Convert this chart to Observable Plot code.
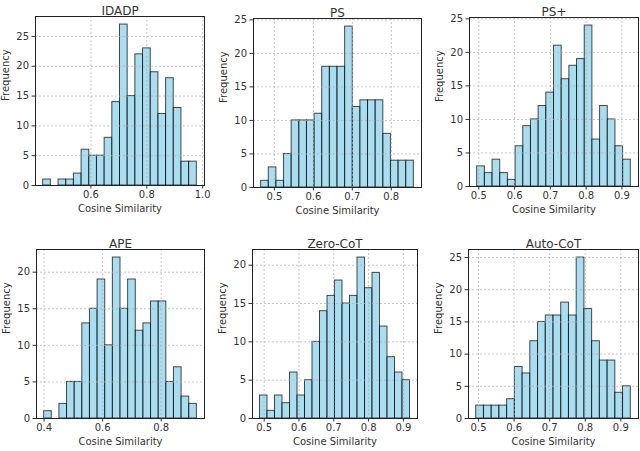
<!DOCTYPE html>
<html>
<head>
<meta charset="utf-8">
<script src="https://cdn.jsdelivr.net/npm/d3@7"></script>
<script src="https://cdn.jsdelivr.net/npm/@observablehq/plot@0.6"></script>
<style>
  html, body { margin: 0; padding: 0; background: #fff; }
  #chart { position: relative; width: 640px; height: 451px; overflow: hidden; font-family: "DejaVu Sans", sans-serif; }
  #chart svg { position: absolute; }
</style>
</head>
<body>
<div id="chart"></div>
<script>
// ---- data ----
const titles = ["IDADP", "PS", "PS+", "APE", "Zero-CoT", "Auto-CoT"];
// histogram range (first bin left edge, last bin right edge), 20 equal bins each
const binLo = [0.429, 0.466, 0.4954, 0.400, 0.488, 0.4935];
const binHi = [0.979, 0.858, 0.925, 0.922, 0.919, 0.928];
const countsIDADP   = [1, 0, 1, 1, 2, 6, 5, 5, 8, 14, 27, 15, 22, 23, 19, 12, 18, 13, 4, 4];
const countsPS      = [1, 3, 1, 5, 10, 10, 10, 11, 18, 18, 18, 24, 12, 13, 13, 13, 8, 4, 4, 4];
const countsPSPlus  = [3, 2, 4, 2, 1, 6, 9, 10, 12, 14, 21, 16, 18, 19, 24, 7, 12, 10, 6, 4];
const countsAPE     = [1, 0, 2, 5, 5, 13, 15, 19, 10, 22, 15, 19, 12, 13, 16, 16, 5, 7, 3, 2];
const countsZeroCoT = [3, 1, 3, 2, 6, 3, 5, 10, 14, 16, 18, 15, 16, 21, 17, 19, 12, 8, 6, 5];
const countsAutoCoT = [2, 2, 2, 2, 3, 8, 7, 12, 15, 16, 16, 18, 16, 25, 17, 12, 9, 9, 4, 5];
const counts = [countsIDADP, countsPS, countsPSPlus, countsAPE, countsZeroCoT, countsAutoCoT];
const xTicks = [
  [0.6, 0.8, 1.0],
  [0.5, 0.6, 0.7, 0.8],
  [0.5, 0.6, 0.7, 0.8, 0.9],
  [0.4, 0.6, 0.8],
  [0.5, 0.6, 0.7, 0.8, 0.9],
  [0.5, 0.6, 0.7, 0.8, 0.9]
];
const yTicks = [
  [0, 5, 10, 15, 20, 25],
  [0, 5, 10, 15, 20, 25],
  [0, 5, 10, 15, 20, 25],
  [0, 5, 10, 15, 20],
  [0, 5, 10, 15, 20],
  [0, 5, 10, 15, 20, 25]
];
const xLabel = "Cosine Similarity";
const yLabel = "Frequency";

// ---- layout (cell box and frame box, in page pixels) ----
const layout = [
  {cx: 0,   cy: 0,   cw: 213, ch: 225, fl: 35,  ft: 16,  fr: 204, fb: 185},
  {cx: 213, cy: 0,   cw: 213, ch: 225, fl: 253, ft: 18,  fr: 421, fb: 187},
  {cx: 426, cy: 0,   cw: 214, ch: 225, fl: 469, ft: 17,  fr: 638, fb: 186},
  {cx: 0,   cy: 225, cw: 213, ch: 226, fl: 36,  ft: 249, fr: 204, fb: 418},
  {cx: 213, cy: 225, cw: 213, ch: 226, fl: 252, ft: 249, fr: 417, fb: 418},
  {cx: 426, cy: 225, cw: 214, ch: 226, fl: 468, ft: 249, fr: 638, fb: 418}
];

const chart = document.getElementById("chart");
const fmt = d3.format(".1f");

titles.forEach((title, i) => {
  const c = counts[i];
  const lo = binLo[i], hi = binHi[i];
  const n = c.length;
  const w = (hi - lo) / n;
  const rows = c.map((v, k) => ({x1: lo + k * w, x2: lo + (k + 1) * w, count: v}));
  const span = hi - lo;
  const ymax = d3.max(c) * 1.05;
  const L = layout[i];

  const svg = Plot.plot({
    width: L.cw,
    height: L.ch,
    marginLeft: L.fl - L.cx,
    marginRight: L.cx + L.cw - L.fr,
    marginTop: L.ft - L.cy,
    marginBottom: L.cy + L.ch - L.fb,
    style: {fontFamily: "DejaVu Sans", fontSize: "10px", background: "transparent", color: "#333", overflow: "visible"},
    x: {domain: [lo - 0.05 * span, hi + 0.05 * span], label: null},
    y: {domain: [0, ymax], label: null},
    marks: [
      Plot.rect(rows, {x1: "x1", x2: "x2", y1: 0, y2: "count", fill: "skyblue", fillOpacity: 0.7, stroke: "black", strokeOpacity: 0.7, strokeWidth: 1}),
      Plot.gridX(xTicks[i], {stroke: "#b0b0b0", strokeOpacity: 0.9, strokeWidth: 0.8, strokeDasharray: "2,2"}),
      Plot.gridY(yTicks[i], {stroke: "#b0b0b0", strokeOpacity: 0.9, strokeWidth: 0.8, strokeDasharray: "2,2"}),
      Plot.axisX(xTicks[i], {tickFormat: fmt, tickSize: 3.5, tickPadding: 2, label: null, fontSize: 10}),
      Plot.axisY(yTicks[i], {tickFormat: d3.format("d"), tickSize: 3.5, tickPadding: 3, label: null, fontSize: 10}),
      Plot.frame({stroke: "#222", strokeWidth: 1}),
      Plot.text([title], {text: d => d, frameAnchor: "top", dy: -10, fontSize: 12, fontWeight: "normal", fill: "#333"}),
      Plot.text([xLabel], {text: d => d, frameAnchor: "bottom", dy: 26, fontSize: 10, fill: "#333"}),
      Plot.text([yLabel], {text: d => d, frameAnchor: "left", dx: -30, rotate: -90, fontSize: 10, fill: "#333"})
    ]
  });
  svg.style.left = L.cx + "px";
  svg.style.top = L.cy + "px";
  chart.appendChild(svg);
});
</script>
</body>
</html>
